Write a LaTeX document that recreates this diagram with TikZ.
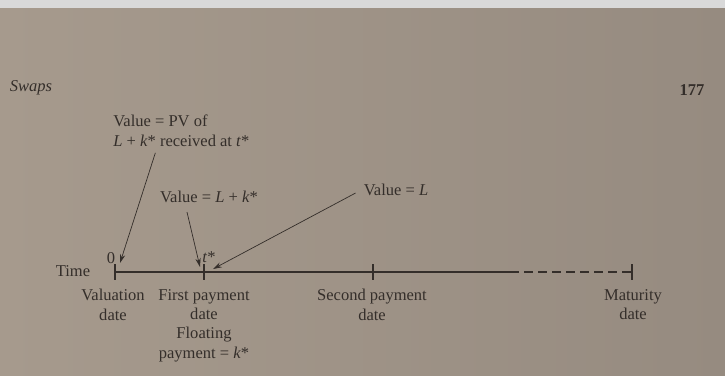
\documentclass[tikz,border=0pt]{standalone}
\usepackage{fontspec}
\setmainfont{Liberation Serif}
\usetikzlibrary{arrows.meta}
\definecolor{pageL}{RGB}{166,154,141}
\definecolor{pageR}{RGB}{150,139,128}
\definecolor{ink}{RGB}{52,46,42}
\newcommand{\vk}{\textit{k}*}
\newcommand{\vL}{\textit{L}}

\begin{document}
\begin{tikzpicture}[font=\fontsize{9.4}{11}\selectfont, color=ink,
  lbl/.style={inner sep=0pt, align=center, anchor=north},
  tick/.style={line width=0.6pt},
  arr/.style={line width=0.4pt, -{Stealth[length=5pt,width=3pt]}}
]
\useasboundingbox (0,0) rectangle (14.5,7.5);
\fill[black!15] (0,7.32) rectangle (14.5,7.5);
\shade[left color=pageL, right color=pageR] (0,0) rectangle (14.5,7.32);

% page header
\node[font=\fontsize{9.4}{11}\selectfont\itshape] (head) at (0.62,5.74) {Swaps};
\node[font=\fontsize{9.4}{11}\selectfont\bfseries] (pnum) at (13.84,5.70) {177};

% time line
\coordinate (t0)   at (2.30,2.06);
\coordinate (t1)   at (4.08,2.06);
\coordinate (t2)   at (7.46,2.06);
\coordinate (tdsh) at (10.20,2.06);
\coordinate (tmat) at (12.64,2.06);
\draw[line width=0.7pt] (t0) -- (t1) -- (t2) -- (tdsh);
\draw[line width=0.7pt, dashed, dash pattern=on 5pt off 3pt] (tdsh) -- (tmat);
\foreach \p in {t0,t1,t2,tmat}
  \draw[tick] ([yshift=-4.5pt]\p) -- ([yshift=4.5pt]\p);

\node (time) at (1.46,2.08) {Time};
\node (zero) at (2.22,2.34) {0};
\node (tstar) at (4.18,2.36) {\textit{t}*};

% dates
\node[lbl] (val)  at (2.26,1.72) {Valuation\\date};
\node[lbl] (fst)  at (4.08,1.72) {First payment\\date\\Floating\\payment = \vk};
\node[lbl] (snd)  at (7.44,1.72) {Second payment\\date};
\node[lbl] (mat)  at (12.66,1.72) {Maturity\\date};

% values
\node[align=left, anchor=north west, inner sep=0pt] (pv) at (2.26,5.20)
  {Value = PV of\\\vL{} + \vk{} received at \textit{t}*};
\node (lk) at (4.18,3.56) {Value = \vL{} + \vk};
\node (vl) at (7.92,3.70) {Value = \vL};

\coordinate (a0) at (2.40,2.24);
\coordinate (a1) at (4.00,2.16);
\coordinate (a2) at (4.26,2.12);
\draw[arr] (pv.south) ++(-0.52,-0.12) -- (a0);
\draw[arr] (lk.south) ++(-0.44,-0.06) -- (a1);
\draw[arr] (vl.west) ++(-0.04,-0.06) -- (a2);
\end{tikzpicture}
\end{document}
